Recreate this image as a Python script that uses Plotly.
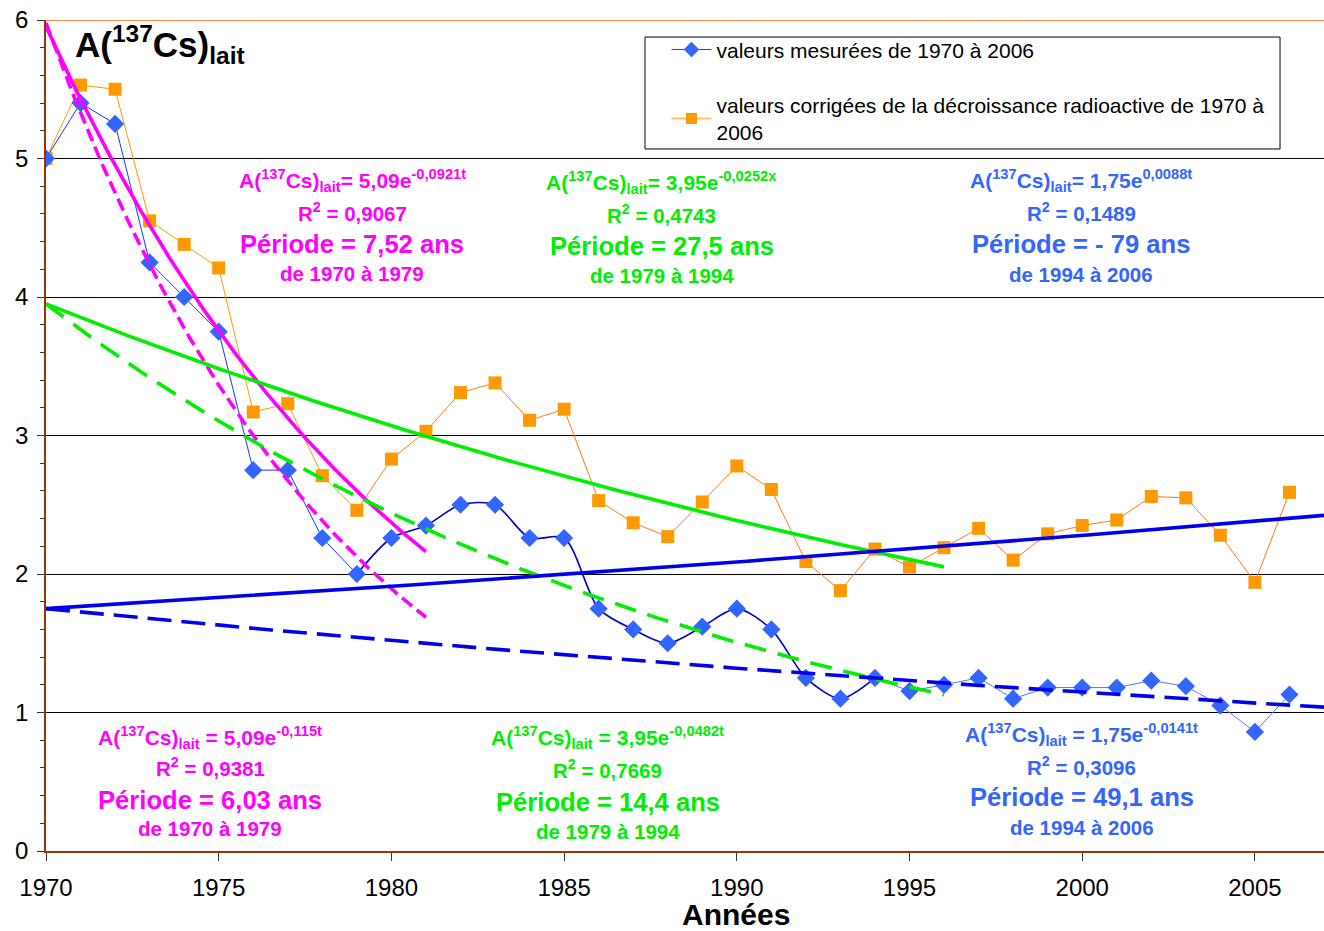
import numpy as np
import plotly.graph_objects as go

# ---------------- data ----------------
years = list(range(1970, 2007))
measured = [5.0, 5.4, 5.25, 4.25, 4.0, 3.75, 2.75, 2.75, 2.26, 2.0,
            2.26, 2.35, 2.5, 2.5, 2.26, 2.26, 1.75, 1.6, 1.5, 1.62,
            1.75, 1.6, 1.25, 1.1, 1.25, 1.155, 1.2, 1.25, 1.1, 1.18,
            1.18, 1.18, 1.23, 1.19, 1.05, 0.86, 1.13]
corrected = [5.0, 5.53, 5.5, 4.55, 4.38, 4.21, 3.17, 3.23, 2.71, 2.46,
             2.83, 3.03, 3.31, 3.38, 3.11, 3.19, 2.53, 2.37, 2.27, 2.52,
             2.78, 2.61, 2.09, 1.88, 2.18, 2.05, 2.19, 2.33, 2.10, 2.29,
             2.35, 2.39, 2.56, 2.55, 2.28, 1.94, 2.59]

# exponential trend lines  A * exp(k * (x - origin)) drawn from x_start to x_end
trend_A = [5.09, 5.09, 3.95, 3.95, 1.75, 1.75]
trend_k = [-0.0921, -0.115, -0.0252, -0.0482, 0.0088, -0.0141]
trend_origin = [1971.7, 1971.4, 1970, 1970, 1970, 1970]
trend_start = [1970, 1970, 1970, 1970, 1970, 1970]
trend_end = [1981, 1981, 1996, 1996, 2007, 2007]
trend_color = ["#FF00FF", "#FF00FF", "#00EE00", "#00EE00", "#0000EE", "#0000EE"]
trend_dash = ["solid", "13px,6px", "solid", "22px,12px", "solid", "24px,10px"]

# text blocks: (formula, R2, period, range)
blocks_top = [
    ("A(<sup>137</sup>Cs)<sub>lait</sub>= 5,09e<sup>-0,0921t</sup>", "R<sup>2</sup> = 0,9067", "Période = 7,52 ans", "de 1970 à 1979"),
    ("A(<sup>137</sup>Cs)<sub>lait</sub>= 3,95e<sup>-0,0252x</sup>", "R<sup>2</sup> = 0,4743", "Période = 27,5 ans", "de 1979 à 1994"),
    ("A(<sup>137</sup>Cs)<sub>lait</sub>= 1,75e<sup>0,0088t</sup>", "R<sup>2</sup> = 0,1489", "Période = - 79 ans", "de 1994 à 2006"),
]
blocks_bottom = [
    ("A(<sup>137</sup>Cs)<sub>lait</sub> = 5,09e<sup>-0,115t</sup>", "R<sup>2</sup> = 0,9381", "Période = 6,03 ans", "de 1970 à 1979"),
    ("A(<sup>137</sup>Cs)<sub>lait</sub> = 3,95e<sup>-0,0482t</sup>", "R<sup>2</sup> = 0,7669", "Période = 14,4 ans", "de 1979 à 1994"),
    ("A(<sup>137</sup>Cs)<sub>lait</sub> = 1,75e<sup>-0,0141t</sup>", "R<sup>2</sup> = 0,3096", "Période = 49,1 ans", "de 1994 à 2006"),
]
block_colors = ["#FF00FF", "#00EE00", "#3366FF"]

legend_labels = ["valeurs mesurées de 1970 à 2006",
                 "valeurs corrigées de la décroissance radioactive de 1970 à<br>2006"]

FONT = "Liberation Sans, Arial, sans-serif"

fig = go.Figure()

# ---------------- data lines ----------------
fig.add_trace(go.Scatter(x=years[:10], y=corrected[:10], mode="lines",
                         line=dict(color="#FF9900", width=1), showlegend=False, hoverinfo="skip"))
fig.add_trace(go.Scatter(x=years[9:], y=corrected[9:], mode="lines",
                         line=dict(color="#FF7A1A", width=1), showlegend=False, hoverinfo="skip"))
fig.add_trace(go.Scatter(x=years[:10], y=measured[:10], mode="lines",
                         line=dict(color="#1A33FF", width=1), showlegend=False, hoverinfo="skip"))
fig.add_trace(go.Scatter(x=years[9:25], y=measured[9:25], mode="lines",
                         line=dict(color="#0000CC", width=1.6, shape="spline", smoothing=0.8),
                         showlegend=False, hoverinfo="skip"))
fig.add_trace(go.Scatter(x=years[24:], y=measured[24:], mode="lines",
                         line=dict(color="#4A7AFF", width=1), showlegend=False, hoverinfo="skip"))
fig.add_trace(go.Scatter(x=years, y=corrected, mode="markers",
                         marker=dict(symbol="square", size=13, color="#FF9900",
                                     line=dict(width=0)), showlegend=False))
fig.add_trace(go.Scatter(x=years, y=measured, mode="markers",
                         marker=dict(symbol="diamond", size=14, color="#3366FF",
                                     line=dict(width=0)), showlegend=False))

# ---------------- trend lines ----------------
for A, k, o, x0, x1, c, d in zip(trend_A, trend_k, trend_origin, trend_start, trend_end,
                                  trend_color, trend_dash):
    xs = np.linspace(x0, x1, 120)
    ys = A * np.exp(k * (xs - o))
    fig.add_trace(go.Scatter(x=xs, y=ys, mode="lines",
                             line=dict(color=c, width=3.6, dash=d),
                             showlegend=False, hoverinfo="skip"))

# ---------------- legend entries ----------------
fig.add_trace(go.Scatter(x=[None], y=[None], mode="lines+markers", name=legend_labels[0],
                         line=dict(color="#1A33FF", width=1),
                         marker=dict(symbol="diamond", size=12, color="#3366FF"),
                         legendgroup="a"))
fig.add_trace(go.Scatter(x=[None], y=[None], mode="lines+markers", name=legend_labels[1],
                         line=dict(color="#FFC266", width=2),
                         marker=dict(symbol="square", size=11, color="#FF9900"),
                         legendgroup="b"))

# ---------------- annotations ----------------
ann = []
top_x = [1978.86, 1987.83, 1999.97]
top_y = [[4.838, 4.614, 4.383, 4.173], [4.830, 4.599, 4.368, 4.152], [4.838, 4.614, 4.383, 4.166]]
bot_x = [1974.75, 1986.27, 1999.99]
bot_y = [[0.823, 0.606, 0.368, 0.159], [0.816, 0.592, 0.354, 0.144], [0.838, 0.614, 0.390, 0.173]]
sizes = [21, 20.5, 25.6, 20.5]
for blocks, bx, by in ((blocks_top, top_x, top_y), (blocks_bottom, bot_x, bot_y)):
    for bi, blk in enumerate(blocks):
        for li, txt in enumerate(blk):
            ann.append(dict(x=bx[bi], y=by[bi][li], xref="x", yref="y",
                            text="<b>" + txt + "</b>", showarrow=False,
                            xanchor="center", yanchor="middle",
                            font=dict(family=FONT, size=sizes[li], color=block_colors[bi])))

ann.append(dict(x=1970.78, y=5.82, xref="x", yref="y",
                text="<b>A(<sup>137</sup>Cs)<sub>lait</sub></b>", showarrow=False,
                xanchor="left", yanchor="middle",
                font=dict(family=FONT, size=35, color="black")))
ann.append(dict(x=0.54, y=-0.077, xref="paper", yref="paper", text="<b>Années</b>",
                showarrow=False, xanchor="center", yanchor="middle",
                font=dict(family=FONT, size=30, color="black")))

shapes = [
    dict(type="line", xref="paper", yref="y", x0=0, x1=1, y0=6, y1=6,
         line=dict(color="#FF6A00", width=1.5)),
    dict(type="rect", xref="paper", yref="paper", x0=0.4687, x1=0.9656, y0=0.8448, y1=0.9795,
         line=dict(color="black", width=1), fillcolor="rgba(0,0,0,0)", layer="below"),
]

fig.update_layout(
    width=1324, height=931,
    margin=dict(l=46, r=0, t=20, b=80),
    paper_bgcolor="white", plot_bgcolor="white",
    font=dict(family=FONT, color="black"),
    annotations=ann, shapes=shapes,
    showlegend=True,
    legend=dict(x=0.4855, y=0.9888, xanchor="left", yanchor="top",
                bgcolor="rgba(0,0,0,0)", borderwidth=0,
                font=dict(family=FONT, size=21, color="black"),
                traceorder="grouped", tracegroupgap=25, itemwidth=40),
    xaxis=dict(range=[1970, 2007], tick0=1970, dtick=5, showgrid=False, zeroline=False,
               showline=True, linecolor="#993300", linewidth=1.5,
               ticks="outside", ticklen=8, tickcolor="#333", tickwidth=1,
               tickfont=dict(family=FONT, size=24, color="black"), ticklabelstandoff=6),
    yaxis=dict(range=[0, 6], dtick=1, showgrid=True, gridcolor="black", gridwidth=1,
               zeroline=False, showline=True, linecolor="#993300", linewidth=1.5,
               ticks="outside", ticklen=7, tickcolor="#333",
               minor=dict(dtick=0.2, ticks="outside", ticklen=4, tickcolor="#333", showgrid=False),
               tickfont=dict(family=FONT, size=24, color="black"), ticklabelstandoff=4),
)

fig.write_html("out.html")
